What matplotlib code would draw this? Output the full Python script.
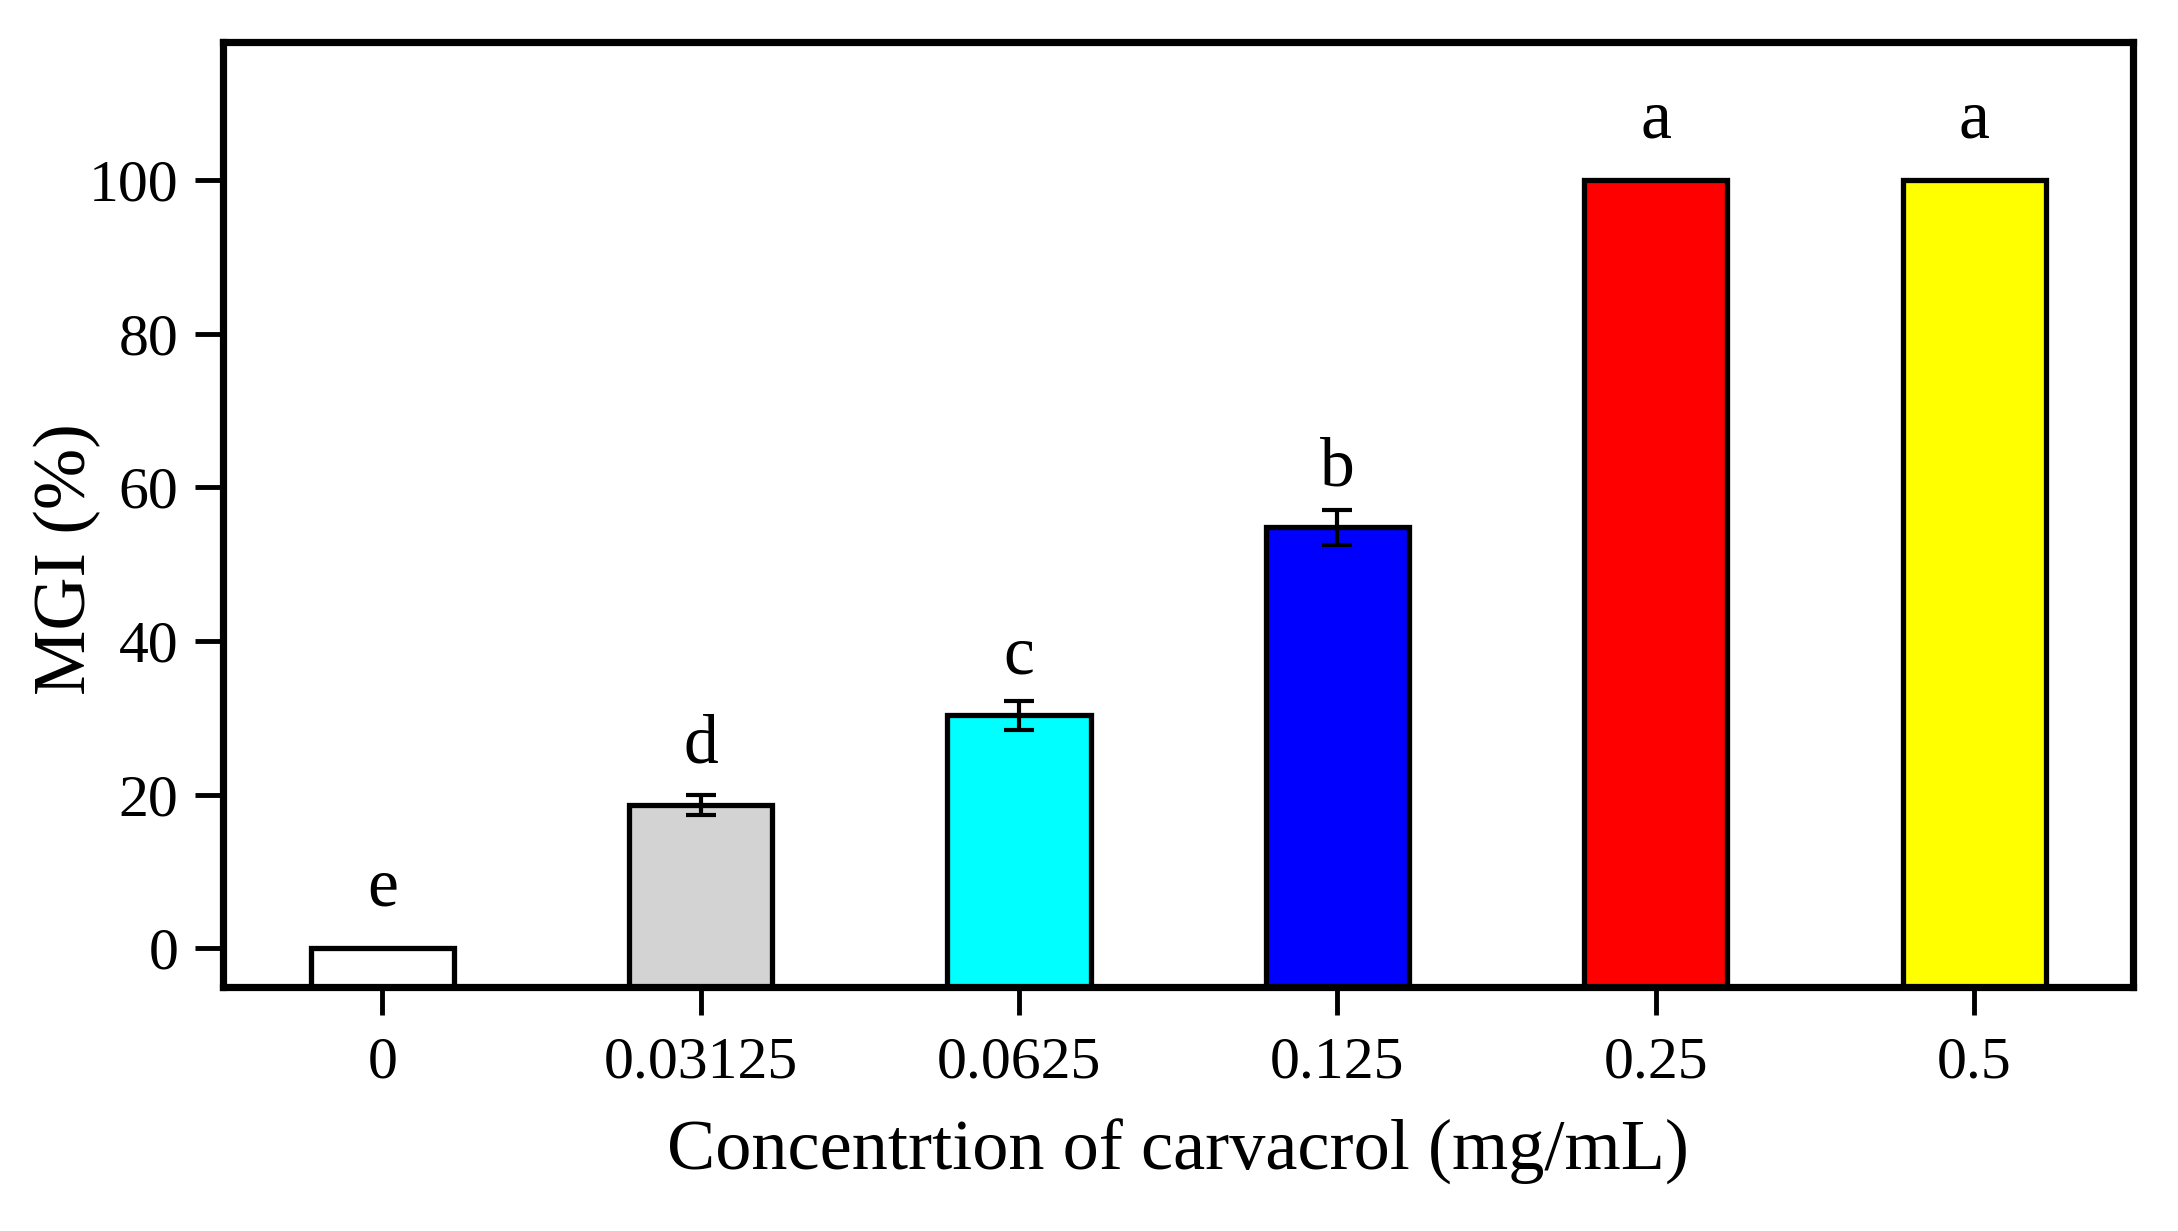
import numpy as np
import matplotlib
matplotlib.use("Agg")
import matplotlib.pyplot as plt

# concentration groups and measured MGI values
concentrations = ["0", "0.03125", "0.0625", "0.125", "0.25", "0.5"]
mgi = [0.0, 18.7, 30.3, 54.8, 100.0, 100.0]
mgi_err = [0.0, 1.3, 1.9, 2.3, 0.0, 0.0]
letters = ["e", "d", "c", "b", "a", "a"]
bar_colors = ["#FFFFFF", "#D3D3D3", "#00FFFF", "#0000FF", "#FF0000", "#FFFF00"]
y_ticks = [0, 20, 40, 60, 80, 100]

plt.rcParams['font.family'] = ['Liberation Serif', 'DejaVu Serif']

fig, ax = plt.subplots(figsize=(21.78, 12.31), dpi=100)
fig.subplots_adjust(left=0.1024, right=0.9795, top=0.966, bottom=0.1985)

y_min = -5
x = np.arange(len(concentrations))
# bars start at the bottom of the axes, as in the original plot
ax.bar(x, np.array(mgi) - y_min, bottom=y_min, width=0.45, color=bar_colors,
       edgecolor="black", linewidth=3.8)
ax.errorbar(x[1:4], mgi[1:4], yerr=mgi_err[1:4], fmt="none", ecolor="black",
            elinewidth=3, capsize=11, capthick=3)

# significance letters a fixed distance above each bar
for xi, v, lab in zip(x, mgi, letters):
    ax.text(xi, v + 5.5, lab, ha="center", va="baseline", fontsize=50)

ax.set_xlim(-0.5, 5.5)
ax.set_ylim(y_min, 118)
ax.set_xticks(x)
ax.set_xticklabels(concentrations)
ax.set_yticks(y_ticks)

for sp in ax.spines.values():
    sp.set_linewidth(5.2)
ax.tick_params(axis="both", direction="out", length=20, width=3.5, labelsize=43)
ax.tick_params(axis="y", pad=12)
ax.tick_params(axis="x", pad=16)

ax.set_xlabel("Concentrtion of carvacrol (mg/mL)", fontsize=52, labelpad=20)
ax.set_ylabel("MGI (%)", fontsize=53)
ax.yaxis.set_label_coords(-0.064, 0.453)

fig.savefig("out.png", dpi=100)
